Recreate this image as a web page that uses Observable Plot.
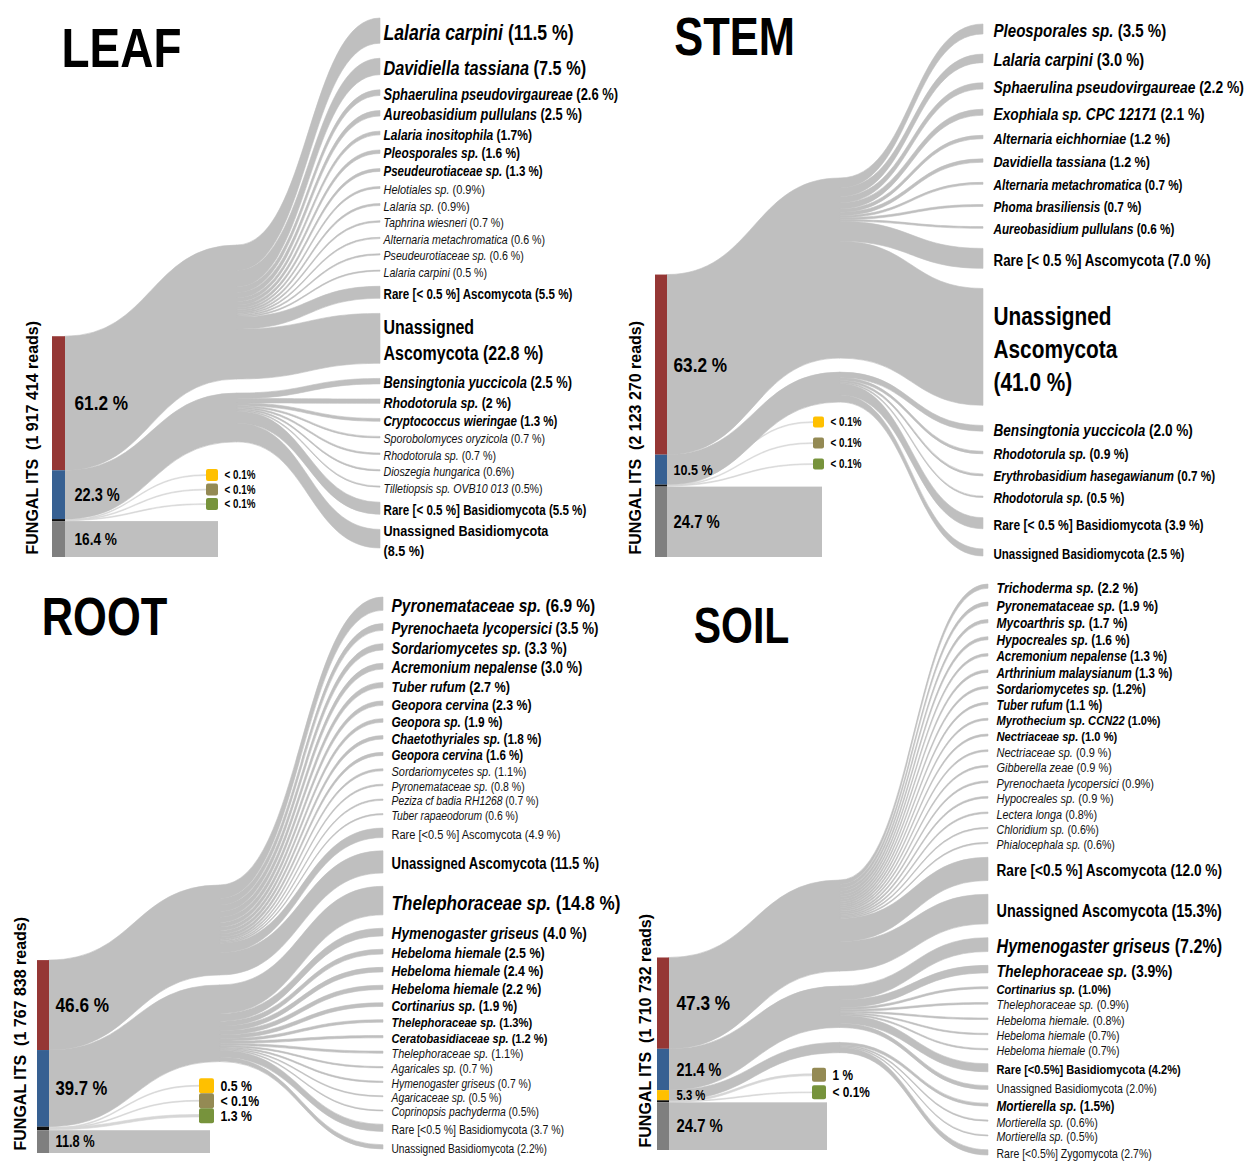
<!DOCTYPE html>
<html>
<head>
<meta charset="utf-8">
<script src="https://cdn.jsdelivr.net/npm/d3@7"></script>
<script src="https://cdn.jsdelivr.net/npm/@observablehq/plot@0.6"></script>
<style>
html,body{margin:0;padding:0;background:#fff;}
#grid{display:grid;grid-template-columns:627px 628px;grid-template-rows:580px 581px;width:1255px;height:1161px;overflow:hidden;}
#grid svg{display:block;overflow:visible;}
</style>
</head>
<body>
<div id="grid"></div>
<script>
// ===================== DATA =====================
// ---- LEAF ----
const leafReads = "1 917 414";
const leafPhyla = ["Ascomycota", "Basidiomycota", "Unassigned"];
const leafPhylumValues = [61.2, 22.3, 16.4];
const leafAscoTaxa = ["Lalaria carpini", "Davidiella tassiana", "Sphaerulina pseudovirgaureae", "Aureobasidium pullulans", "Lalaria inositophila", "Pleosporales sp.", "Pseudeurotiaceae sp.", "Helotiales sp.", "Lalaria sp.", "Taphrina wiesneri", "Alternaria metachromatica", "Pseudeurotiaceae sp.", "Lalaria carpini", "Rare [< 0.5 %] Ascomycota", "Unassigned\nAscomycota"];
const leafAscoValues = [11.5, 7.5, 2.6, 2.5, 1.7, 1.6, 1.3, 0.9, 0.9, 0.7, 0.6, 0.6, 0.5, 5.5, 22.8];
const leafAscoPct = ["(11.5 %)", "(7.5 %)", "(2.6 %)", "(2.5 %)", "(1.7%)", "(1.6 %)", "(1.3 %)", "(0.9%)", "(0.9%)", "(0.7 %)", "(0.6 %)", "(0.6 %)", "(0.5 %)", "(5.5 %)", "(22.8 %)"];
const leafBasidioTaxa = ["Bensingtonia yuccicola", "Rhodotorula sp.", "Cryptococcus wieringae", "Sporobolomyces oryzicola", "Rhodotorula sp.", "Dioszegia hungarica", "Tilletiopsis sp. OVB10 013", "Rare [< 0.5 %] Basidiomycota", "Unassigned Basidiomycota\n"];
const leafBasidioValues = [2.5, 2, 1.3, 0.7, 0.7, 0.6, 0.5, 5.5, 8.5];
const leafBasidioPct = ["(2.5 %)", "(2 %)", "(1.3 %)", "(0.7 %)", "(0.7 %)", "(0.6%)", "(0.5%)", "(5.5 %)", "(8.5 %)"];
const leafMinorPhyla = ["Zygomycota", "Chytridiomycota", "Glomeromycota"];
const leafMinorValues = [0.05, 0.05, 0.05];
const leafMinorLabels = ["< 0.1%", "< 0.1%", "< 0.1%"];

// ---- STEM ----
const stemReads = "2 123 270";
const stemPhyla = ["Ascomycota", "Basidiomycota", "Unassigned"];
const stemPhylumValues = [63.2, 10.5, 24.7];
const stemAscoTaxa = ["Pleosporales sp.", "Lalaria carpini", "Sphaerulina pseudovirgaureae", "Exophiala sp. CPC 12171", "Alternaria eichhorniae", "Davidiella tassiana", "Alternaria metachromatica", "Phoma brasiliensis", "Aureobasidium pullulans", "Rare [< 0.5 %] Ascomycota", "Unassigned\nAscomycota\n"];
const stemAscoValues = [3.5, 3.0, 2.2, 2.1, 1.2, 1.2, 0.7, 0.7, 0.6, 7.0, 41.0];
const stemAscoPct = ["(3.5 %)", "(3.0 %)", "(2.2 %)", "(2.1 %)", "(1.2 %)", "(1.2 %)", "(0.7 %)", "(0.7 %)", "(0.6 %)", "(7.0 %)", "(41.0 %)"];
const stemBasidioTaxa = ["Bensingtonia yuccicola", "Rhodotorula sp.", "Erythrobasidium hasegawianum", "Rhodotorula sp.", "Rare [< 0.5 %] Basidiomycota", "Unassigned Basidiomycota"];
const stemBasidioValues = [2.0, 0.9, 0.7, 0.5, 3.9, 2.5];
const stemBasidioPct = ["(2.0 %)", "(0.9 %)", "(0.7 %)", "(0.5 %)", "(3.9 %)", "(2.5 %)"];
const stemMinorPhyla = ["Zygomycota", "Chytridiomycota", "Glomeromycota"];
const stemMinorValues = [0.05, 0.05, 0.05];
const stemMinorLabels = ["< 0.1%", "< 0.1%", "< 0.1%"];

// ---- ROOT ----
const rootReads = "1 767 838";
const rootPhyla = ["Ascomycota", "Basidiomycota", "Unassigned"];
const rootPhylumValues = [46.6, 39.7, 11.8];
const rootAscoTaxa = ["Pyronemataceae sp.", "Pyrenochaeta lycopersici", "Sordariomycetes sp.", "Acremonium nepalense", "Tuber rufum", "Geopora cervina", "Geopora sp.", "Chaetothyriales sp.", "Geopora cervina", "Sordariomycetes sp.", "Pyronemataceae sp.", "Peziza cf badia RH1268", "Tuber rapaeodorum", "Rare [<0.5 %] Ascomycota", "Unassigned Ascomycota"];
const rootAscoValues = [6.9, 3.5, 3.3, 3.0, 2.7, 2.3, 1.9, 1.8, 1.6, 1.1, 0.8, 0.7, 0.6, 4.9, 11.5];
const rootAscoPct = ["(6.9 %)", "(3.5 %)", "(3.3 %)", "(3.0 %)", "(2.7 %)", "(2.3 %)", "(1.9 %)", "(1.8 %)", "(1.6 %)", "(1.1%)", "(0.8 %)", "(0.7 %)", "(0.6 %)", "(4.9 %)", "(11.5 %)"];
const rootBasidioTaxa = ["Thelephoraceae sp.", "Hymenogaster griseus", "Hebeloma hiemale", "Hebeloma hiemale", "Hebeloma hiemale", "Cortinarius sp.", "Thelephoraceae sp.", "Ceratobasidiaceae sp.", "Thelephoraceae sp.", "Agaricales sp.", "Hymenogaster griseus", "Agaricaceae sp.", "Coprinopsis pachyderma", "Rare [<0.5 %] Basidiomycota", "Unassigned Basidiomycota"];
const rootBasidioValues = [14.8, 4.0, 2.5, 2.4, 2.2, 1.9, 1.3, 1.2, 1.1, 0.7, 0.7, 0.5, 0.5, 3.7, 2.2];
const rootBasidioPct = ["(14.8 %)", "(4.0 %)", "(2.5 %)", "(2.4 %)", "(2.2 %)", "(1.9 %)", "(1.3%)", "(1.2 %)", "(1.1%)", "(0.7 %)", "(0.7 %)", "(0.5 %)", "(0.5%)", "(3.7 %)", "(2.2%)"];
const rootMinorPhyla = ["Zygomycota", "Chytridiomycota", "Glomeromycota"];
const rootMinorValues = [0.5, 0.05, 1.3];
const rootMinorLabels = ["0.5 %", "< 0.1%", "1.3 %"];

// ---- SOIL ----
const soilReads = "1 710 732";
const soilPhyla = ["Ascomycota", "Basidiomycota", "Zygomycota", "Unassigned"];
const soilPhylumValues = [47.3, 21.4, 5.3, 24.7];
const soilAscoTaxa = ["Trichoderma sp.", "Pyronemataceae sp.", "Mycoarthris sp.", "Hypocreales sp.", "Acremonium nepalense", "Arthrinium malaysianum", "Sordariomycetes sp.", "Tuber rufum", "Myrothecium sp. CCN22", "Nectriaceae sp.", "Nectriaceae sp.", "Gibberella zeae", "Pyrenochaeta lycopersici", "Hypocreales sp.", "Lectera longa", "Chloridium sp.", "Phialocephala sp.", "Rare [<0.5 %] Ascomycota", "Unassigned Ascomycota"];
const soilAscoValues = [2.2, 1.9, 1.7, 1.6, 1.3, 1.3, 1.2, 1.1, 1.0, 1.0, 0.9, 0.9, 0.9, 0.9, 0.8, 0.6, 0.6, 12.0, 15.3];
const soilAscoPct = ["(2.2 %)", "(1.9 %)", "(1.7 %)", "(1.6 %)", "(1.3 %)", "(1.3 %)", "(1.2%)", "(1.1 %)", "(1.0%)", "(1.0 %)", "(0.9 %)", "(0.9 %)", "(0.9%)", "(0.9 %)", "(0.8%)", "(0.6%)", "(0.6%)", "(12.0 %)", "(15.3%)"];
const soilBasidioTaxa = ["Hymenogaster griseus", "Thelephoraceae sp.", "Cortinarius sp.", "Thelephoraceae sp.", "Hebeloma hiemale.", "Hebeloma hiemale", "Hebeloma hiemale", "Rare [<0.5%] Basidiomycota", "Unassigned Basidiomycota"];
const soilBasidioValues = [7.2, 3.9, 1.0, 0.9, 0.8, 0.7, 0.7, 4.2, 2.0];
const soilBasidioPct = ["(7.2%)", "(3.9%)", "(1.0%)", "(0.9%)", "(0.8%)", "(0.7%)", "(0.7%)", "(4.2%)", "(2.0%)"];
const soilZygoTaxa = ["Mortierella sp.", "Mortierella sp.", "Mortierella sp.", "Rare [<0.5%] Zygomycota"];
const soilZygoValues = [1.5, 0.6, 0.5, 2.7];
const soilZygoPct = ["(1.5%)", "(0.6%)", "(0.5%)", "(2.7%)"];
const soilMinorPhyla = ["Chytridiomycota", "Glomeromycota"];
const soilMinorValues = [1.0, 0.05];
const soilMinorLabels = ["1 %", "< 0.1%"];

// ===================== STYLE / LAYOUT =====================
const COLORS = {Ascomycota: "#953735", Basidiomycota: "#376092", Zygomycota: "#ffc000", Chytridiomycota: "#948a54", Glomeromycota: "#77933c", Other: "#0d0d0d", Unassigned: "#7f7f7f"};
const RIBBON = "#bfbfbf";
const MINOR_RIBBON = "#d6d6d6";

function hasFont(name) {
  const c = document.createElement("canvas").getContext("2d");
  const s = "Lalaria carpini WWW mmm 0123";
  c.font = "bold 40px monospace"; const a = c.measureText(s).width;
  c.font = `bold 40px "${name}", monospace`; const b = c.measureText(s).width;
  return Math.abs(a - b) > 0.5;
}
const NARROW = hasFont("Liberation Sans Narrow");
const FONT = NARROW ? '"Liberation Sans Narrow", "Arial Narrow", sans-serif' : '"Liberation Sans", Arial, sans-serif';
const SQUEEZE = NARROW ? 1 : 0.82;

const panels = [
  {title: "LEAF", reads: leafReads, phyla: leafPhyla, phylumValues: leafPhylumValues,
   groups: [{phylum: "Ascomycota", taxa: leafAscoTaxa, values: leafAscoValues, pct: leafAscoPct},
            {phylum: "Basidiomycota", taxa: leafBasidioTaxa, values: leafBasidioValues, pct: leafBasidioPct}],
   minorPhyla: leafMinorPhyla, minorValues: leafMinorValues, minorLabels: leafMinorLabels},
  {title: "STEM", reads: stemReads, phyla: stemPhyla, phylumValues: stemPhylumValues,
   groups: [{phylum: "Ascomycota", taxa: stemAscoTaxa, values: stemAscoValues, pct: stemAscoPct},
            {phylum: "Basidiomycota", taxa: stemBasidioTaxa, values: stemBasidioValues, pct: stemBasidioPct}],
   minorPhyla: stemMinorPhyla, minorValues: stemMinorValues, minorLabels: stemMinorLabels},
  {title: "ROOT", reads: rootReads, phyla: rootPhyla, phylumValues: rootPhylumValues,
   groups: [{phylum: "Ascomycota", taxa: rootAscoTaxa, values: rootAscoValues, pct: rootAscoPct},
            {phylum: "Basidiomycota", taxa: rootBasidioTaxa, values: rootBasidioValues, pct: rootBasidioPct}],
   minorPhyla: rootMinorPhyla, minorValues: rootMinorValues, minorLabels: rootMinorLabels},
  {title: "SOIL", reads: soilReads, phyla: soilPhyla, phylumValues: soilPhylumValues,
   groups: [{phylum: "Ascomycota", taxa: soilAscoTaxa, values: soilAscoValues, pct: soilAscoPct},
            {phylum: "Basidiomycota", taxa: soilBasidioTaxa, values: soilBasidioValues, pct: soilBasidioPct},
            {phylum: "Zygomycota", taxa: soilZygoTaxa, values: soilZygoValues, pct: soilZygoPct}],
   minorPhyla: soilMinorPhyla, minorValues: soilMinorValues, minorLabels: soilMinorLabels}
];

const layouts = [
  {W: 627, H: 580, k: 2.19, barX: 52, barW: 13, barBottom: 557, blockX: 218, midX: 237, midTop: 245, midGap: 14,
   tgtX: 380, tgtTop: 18, tgtBot: 548, labelDx: 3, fontScale: 1, sqRight: 218, sq: 12, sqStep: 14.5, sqGap: 11, sqFs: 12,
   barLabelDx: 9, axisX: 32, titleX: 121, titleY: 49, titleSize: 56},
  {W: 628, H: 580, k: 2.85, barX: 28, barW: 12, barBottom: 557, blockX: 195, midX: 213, midTop: 178, midGap: 14,
   tgtX: 356, tgtTop: 24, tgtBot: 556, labelDx: 10, fontScale: 1.1, sqRight: 197, sq: 11, sqStep: 21, sqGap: 17, sqFs: 12,
   barLabelDx: 6, axisX: 8, titleX: 107, titleY: 38, titleSize: 53},
  {W: 627, H: 581, k: 1.93, barX: 37, barW: 12, barBottom: 573, blockX: 210, midX: 220, midTop: 305, midGap: 10,
   tgtX: 383, tgtTop: 17, tgtBot: 569, labelDx: 8, fontScale: 0.97, sqRight: 214, sq: 15, sqStep: 15, sqGap: 7, sqFs: 15,
   barLabelDx: 6, axisX: 20, titleX: 104, titleY: 38, titleSize: 53},
  {W: 628, H: 581, k: 1.93, barX: 30, barW: 12, barBottom: 570, blockX: 200, midX: 213, midTop: 300, midGap: 15,
   tgtX: 361, tgtTop: 4, tgtBot: 575, labelDx: 8, fontScale: 1, sqRight: 199, sq: 14, sqStep: 17.5, sqGap: 3, sqFs: 14.5,
   barLabelDx: 7, axisX: 18, titleX: 114, titleY: 46, titleSize: 50}
];

const clamp = (v, a, b) => Math.max(a, Math.min(b, v));
const barFont = d3.scaleSqrt().domain([0, 45]).range([10, 21]).clamp(true);
const SVGNS = "http://www.w3.org/2000/svg";

function renderPanel(P, L) {
  const k = L.k;
  // ---- bar segments ----
  const segDefs = P.phyla.filter(p => p !== "Unassigned").map(p => ({name: p, value: P.phylumValues[P.phyla.indexOf(p)]}));
  segDefs.push({name: "Other", value: d3.sum(P.minorValues)});
  segDefs.push({name: "Unassigned", value: P.phylumValues[P.phyla.indexOf("Unassigned")]});
  const segH = s => Math.max(s.value * k, 2);
  let y = L.barBottom - d3.sum(segDefs, segH);
  const segs = segDefs.map(s => { const h = segH(s); const r = {...s, x0: L.barX, x1: L.barX + L.barW, y0: y, y1: y + h}; y += h; return r; });
  const un = segs.find(s => s.name === "Unassigned");
  const other = segs.find(s => s.name === "Other");

  // ---- intermediate (phylum) nodes ----
  let my = L.midTop;
  const mids = P.groups.map(g => { const h = d3.sum(g.values) * k; const r = {y0: my, y1: my + h}; my += h + L.midGap; return r; });

  // ---- target nodes ----
  const targets = [];
  P.groups.forEach((g, gi) => g.taxa.forEach((t, i) => targets.push({group: gi, name: t, value: g.values[i], pct: g.pct[i]})));
  const th = targets.map(t => t.value * k);
  const gap = (L.tgtBot - L.tgtTop - d3.sum(th)) / (targets.length - 1);
  let ty = L.tgtTop;
  targets.forEach((t, i) => { t.y0 = ty; t.y1 = ty + th[i]; t.cy = ty + th[i] / 2; ty += th[i] + gap; });

  // ---- ribbons ----
  const ribbons = [];
  P.groups.forEach((g, gi) => {
    const s = segs.find(d => d.name === g.phylum), m = mids[gi];
    ribbons.push({id: "p" + gi, x: s.x1, y1: s.y0, y2: s.y1}, {id: "p" + gi, x: L.midX, y1: m.y0, y2: m.y1});
  });
  const offs = mids.map(m => m.y0);
  targets.forEach((t, i) => {
    const h = t.y1 - t.y0, sy = offs[t.group];
    offs[t.group] += h;
    ribbons.push({id: "t" + i, x: L.midX, y1: sy, y2: sy + h}, {id: "t" + i, x: L.tgtX, y1: t.y0, y2: t.y1});
  });

  const block = [{x1: un.x1, x2: L.blockX, y1: un.y0, y2: un.y1}];

  // ---- minor phyla squares ----
  const n = P.minorPhyla.length;
  const lastCy = un.y0 - L.sq / 2 - L.sqGap;
  const squares = P.minorPhyla.map((p, i) => {
    const cy = lastCy - (n - 1 - i) * L.sqStep;
    return {phylum: p, label: P.minorLabels[i], value: P.minorValues[i], x1: L.sqRight - L.sq, x2: L.sqRight, y1: cy - L.sq / 2, y2: cy + L.sq / 2, cy};
  });
  const oc = (other.y0 + other.y1) / 2;
  const minorFlows = [];
  squares.forEach((s, i) => {
    const h = Math.max(s.value * k, 0.9);
    minorFlows.push({id: "m" + i, x: other.x1, y1: oc - h / 2, y2: oc + h / 2}, {id: "m" + i, x: s.x1, y1: s.cy - h / 2, y2: s.cy + h / 2});
  });

  // ---- labels ----
  const barLabels = segs.filter(s => s.name !== "Other").map(s => ({x: s.x1 + L.barLabelDx, y: (s.y0 + s.y1) / 2, text: `${s.value} %`, fs: barFont(s.value)}));
  const italic = new Map();
  const tLabels = targets.map(t => {
    const plain = /^(Rare|Unassigned)/.test(t.name);
    const fs = L.fontScale * (plain ? clamp(9 + 2.2 * Math.sqrt(t.value), 12.8, 24) : clamp(10 + 3.6 * Math.sqrt(t.value), 13, 21.5));
    const text = t.name.endsWith("\n") ? t.name + t.pct : t.name + " " + t.pct;
    if (!plain) italic.set(text, [t.name, " " + t.pct]);
    return {x: L.tgtX + L.labelDx, y: t.cy, text, fs, bold: fs >= 13.5};
  });
  const sqLabels = squares.map(s => ({x: s.x2 + 6, y: s.cy, text: s.label}));

  const svg = Plot.plot({
    width: L.W, height: L.H, margin: 0,
    x: {domain: [0, L.W], range: [0, L.W], axis: null},
    y: {domain: [0, L.H], range: [0, L.H], axis: null},
    color: {type: "identity"},
    style: {fontFamily: FONT, background: "transparent", overflow: "visible"},
    marks: [
      Plot.areaY(minorFlows, {x: "x", y1: "y1", y2: "y2", z: "id", curve: "bump-x", fill: MINOR_RIBBON, stroke: MINOR_RIBBON, strokeWidth: 0.6}),
      Plot.areaY(ribbons, {x: "x", y1: "y1", y2: "y2", z: "id", curve: "bump-x", fill: RIBBON, stroke: RIBBON, strokeWidth: 0.6}),
      Plot.rect(block, {x1: "x1", x2: "x2", y1: "y1", y2: "y2", fill: RIBBON}),
      Plot.rect(segs, {x1: "x0", x2: "x1", y1: "y0", y2: "y1", fill: d => COLORS[d.name]}),
      Plot.rect(squares, {x1: "x1", x2: "x2", y1: "y1", y2: "y2", fill: d => COLORS[d.phylum], rx: 2}),
      Plot.text([{x: L.titleX, y: L.titleY, text: P.title}], {x: "x", y: "y", text: "text", fontSize: L.titleSize, fontWeight: "bold", fill: "#000", textAnchor: "middle", lineAnchor: "middle"}),
      Plot.text([{x: L.axisX, y: L.barBottom - 3, text: `FUNGAL ITS\u00a0\u00a0(${P.reads} reads)`}], {x: "x", y: "y", text: "text", rotate: -90, textAnchor: "start", fontSize: 16, fontWeight: "bold", fontFamily: '"Liberation Sans", Arial, sans-serif', fill: "#000"}),
      Plot.text(barLabels, {x: "x", y: "y", text: "text", fontSize: d => d.fs, fontWeight: "bold", textAnchor: "start", fill: "#000"}),
      Plot.text(sqLabels, {x: "x", y: "y", text: "text", fontSize: L.sqFs, fontWeight: "bold", textAnchor: "start", fill: "#000"}),
      Plot.text(tLabels.filter(d => d.bold), {x: "x", y: "y", text: "text", fontSize: d => d.fs, fontWeight: "bold", textAnchor: "start", lineAnchor: "middle", lineHeight: 1.3, fill: "#000"}),
      Plot.text(tLabels.filter(d => !d.bold), {x: "x", y: "y", text: "text", fontSize: d => d.fs, textAnchor: "start", lineAnchor: "middle", lineHeight: 1.3, fill: "#111"})
    ]
  });

  svg.querySelectorAll("text").forEach(t => {
    const full = t.textContent;
    if (full.startsWith("FUNGAL ITS")) { t.dataset.axis = "1"; return; }
    // italic taxon names (percent part upright)
    const parts = italic.get(full);
    if (!parts) return;
    const host = t.children.length === 1 ? t.children[0] : t;
    host.textContent = "";
    const a = document.createElementNS(SVGNS, "tspan");
    a.setAttribute("font-style", "italic");
    a.textContent = parts[0];
    const b = document.createElementNS(SVGNS, "tspan");
    b.textContent = parts[1];
    host.appendChild(a); host.appendChild(b);
  });

  // condensed look when no narrow face is installed
  if (SQUEEZE !== 1) {
    svg.querySelectorAll("text").forEach(t => {
      if (t.dataset.axis) return;
      const tr = t.getAttribute("transform");
      if (tr) t.setAttribute("transform", tr + ` scale(${SQUEEZE},1)`);
      else {
        const x = +t.getAttribute("x") || 0, y = +t.getAttribute("y") || 0;
        t.removeAttribute("x"); t.removeAttribute("y");
        t.setAttribute("transform", `translate(${x},${y}) scale(${SQUEEZE},1)`);
      }
    });
  }
  return svg;
}

const grid = document.getElementById("grid");
panels.forEach((P, i) => grid.appendChild(renderPanel(P, layouts[i])));
</script>
</body>
</html>
